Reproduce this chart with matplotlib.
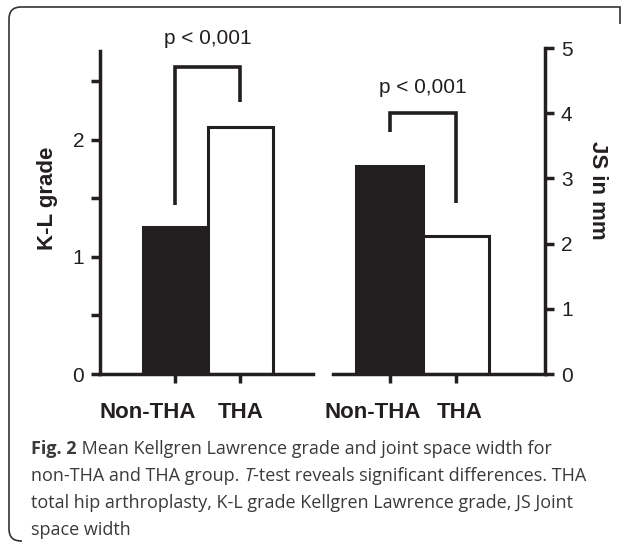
import matplotlib
matplotlib.use("Agg")
import matplotlib.pyplot as plt
from matplotlib.path import Path
from matplotlib.patches import PathPatch
from matplotlib.transforms import ScaledTranslation

# ---- data ----
groups = ["Non-THA", "THA"]
kl_grade = [1.26, 2.11]
js_mm = [3.19, 2.12]
kl_bracket = [1.44, 2.62, 2.62, 2.32]
js_bracket = [3.71, 4.0, 4.0, 2.62]
p_text = "p < 0,001"
kl_ticks = [0, 0.5, 1, 1.5, 2, 2.5]
kl_ticklabels = ["0", "", "1", "", "2", ""]
js_ticks = [0, 1, 2, 3, 4, 5]
js_ticklabels = ["0", "1", "2", "3", "4", "5"]

INK = "#231f20"
W, H = 627, 548
plt.rcParams["font.family"] = ["Liberation Sans", "DejaVu Sans"]

fig = plt.figure(figsize=(W / 100, H / 100), dpi=100)

def fx(px):
    return px / W

def fy(py):
    return 1 - py / H

pos = [1, 2]

# left panel
ax1 = fig.add_axes([fx(100), fy(374), fx(313) - fx(100), fy(51) - fy(374)])
ax1.bar(pos, kl_grade, width=1.0, color=[INK, "white"], edgecolor=INK, linewidth=2.2, zorder=2)
ax1.set_xlim(-0.154, 3.123)
ax1.set_ylim(0, 2.76)
ax1.set_yticks(kl_ticks)
ax1.set_yticklabels(kl_ticklabels)
ax1.set_xticks(pos)
ax1.set_xticklabels(groups)
for s in ["top", "right"]:
    ax1.spines[s].set_visible(False)
ax1.set_ylabel("K-L grade", fontsize=16, fontweight="bold", color=INK, va="center")
ax1.yaxis.set_label_coords((47 - 100) / 213, (374 - 198) / 323)
ax1.plot(pos[:1] * 2 + pos[1:] * 2, kl_bracket, color=INK, lw=2.6, clip_on=False,
         solid_joinstyle="miter", solid_capstyle="butt", zorder=3)
ax1.text(1.5, 2.87, p_text, ha="center", va="center", fontsize=15, color=INK, clip_on=False)

# right panel
ax2 = fig.add_axes([fx(333), fy(374), fx(545) - fx(333), fy(48) - fy(374)])
ax2.bar(pos, js_mm, width=1.0, color=[INK, "white"], edgecolor=INK, linewidth=2.2, zorder=2)
ax2.set_xlim(0.150, 3.338)
ax2.set_ylim(0, 5)
ax2.set_yticks(js_ticks)
ax2.set_yticklabels(js_ticklabels)
ax2.yaxis.tick_right()
ax2.yaxis.set_label_position("right")
ax2.set_xticks(pos)
ax2.set_xticklabels(groups)
for s in ["top", "left"]:
    ax2.spines[s].set_visible(False)
ax2.set_ylabel("JS in mm", fontsize=16, fontweight="bold", color=INK, rotation=-90, va="center")
ax2.yaxis.set_label_coords((598 - 333) / 212, (374 - 190) / 326)
ax2.plot(pos[:1] * 2 + pos[1:] * 2, js_bracket, color=INK, lw=2.6, clip_on=False,
         solid_joinstyle="miter", solid_capstyle="butt", zorder=3)
ax2.text(1.5, 4.40, p_text, ha="center", va="center", fontsize=15, color=INK, clip_on=False)

for ax, shifts in ((ax1, (-27, 1)), (ax2, (-17, 4))):
    for sp in ax.spines.values():
        sp.set_linewidth(2.5)
        sp.set_color(INK)
        sp.set_capstyle("projecting")
    ax.tick_params(axis="both", length=6.5, width=2.5, color=INK, labelcolor=INK)
    ax.tick_params(axis="y", labelsize=15, pad=5)
    ax.tick_params(axis="x", labelsize=16, pad=14)
    for lab, dx in zip(ax.get_xticklabels(), shifts):
        lab.set_fontweight("bold")
        lab.set_transform(lab.get_transform() + ScaledTranslation(dx / 100, 0, fig.dpi_scale_trans))
    ax.set_facecolor("none")

# border (top & left with rounded corners)
r = 12
verts = [
    (fx(620), fy(24)),
    (fx(620), fy(7 + r)), (fx(620), fy(7)), (fx(620 - r), fy(7)),
    (fx(9 + r), fy(7)),
    (fx(9), fy(7)), (fx(9), fy(7 + r)),
    (fx(9), fy(541 - r)),
    (fx(9), fy(541)), (fx(9 + r), fy(541)),
    (fx(22), fy(541)),
]
codes = [Path.MOVETO, Path.CURVE3, Path.CURVE3, Path.LINETO, Path.LINETO,
         Path.CURVE3, Path.CURVE3, Path.LINETO, Path.CURVE3, Path.CURVE3, Path.LINETO]
fig.add_artist(PathPatch(Path(verts, codes), transform=fig.transFigure, fill=False,
                         edgecolor="#333333", linewidth=1.2))

# caption with styled runs
cap_lines = [
    [("Fig. 2", "bold", "normal"), (" Mean Kellgren Lawrence grade and joint space width for", "normal", "normal")],
    [("non-THA and THA group. ", "normal", "normal"), ("T", "normal", "italic"),
     ("-test reveals significant differences. THA", "normal", "normal")],
    [("total hip arthroplasty, K-L grade Kellgren Lawrence grade, JS Joint", "normal", "normal")],
    [("space width", "normal", "normal")],
]
cap_y = [449, 476, 503, 530]
renderer = fig.canvas.get_renderer()
for runs, y in zip(cap_lines, cap_y):
    x = 31
    for txt, weight, style in runs:
        t = fig.text(fx(x), fy(y), txt, fontsize=13, fontweight=weight, fontstyle=style,
                     family=["Open Sans", "DejaVu Sans"], color="#3a3a3a", va="center", ha="left")
        bb = t.get_window_extent(renderer)
        x = bb.x1

fig.savefig("out.png", dpi=100)
